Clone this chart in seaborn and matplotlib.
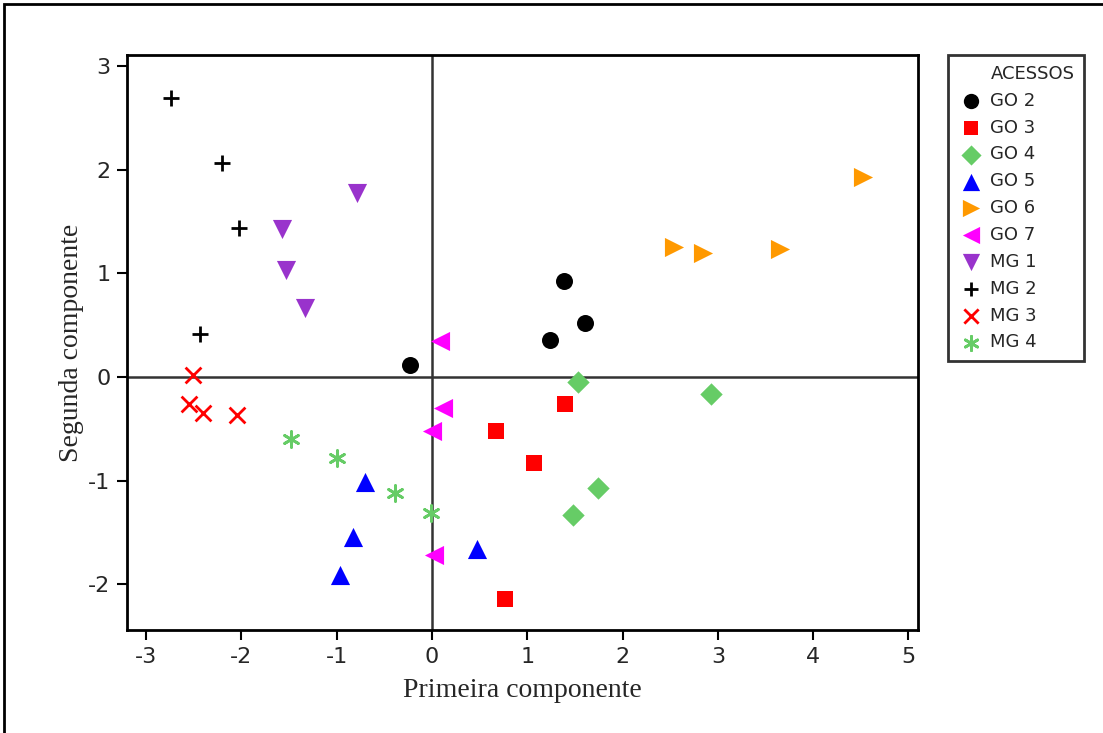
import matplotlib
matplotlib.use("Agg")
import matplotlib.pyplot as plt
import seaborn as sns
import pandas as pd
from matplotlib.lines import Line2D
from matplotlib.patches import Rectangle

# ---- data ----
groups = ["GO 2", "GO 3", "GO 4", "GO 5", "GO 6", "GO 7", "MG 1", "MG 2", "MG 3", "MG 4"]
go2_x = [-0.23, 1.39, 1.61, 1.24]
go2_y = [0.12, 0.93, 0.52, 0.36]
go3_x = [1.40, 0.67, 1.07, 0.77]
go3_y = [-0.26, -0.52, -0.83, -2.14]
go4_x = [1.53, 2.93, 1.74, 1.48]
go4_y = [-0.05, -0.16, -1.07, -1.33]
go5_x = [-0.70, -0.83, -0.97, 0.47]
go5_y = [-1.01, -1.54, -1.91, -1.66]
go6_x = [4.52, 2.54, 2.84, 3.65]
go6_y = [1.93, 1.25, 1.20, 1.23]
go7_x = [0.08, 0.12, 0.00, 0.02]
go7_y = [0.35, -0.30, -0.52, -1.72]
mg1_x = [-0.79, -1.57, -1.53, -1.33]
mg1_y = [1.77, 1.43, 1.03, 0.67]
mg2_x = [-2.74, -2.20, -2.03, -2.43]
mg2_y = [2.69, 2.06, 1.44, 0.41]
mg3_x = [-2.51, -2.55, -2.40, -2.05]
mg3_y = [0.02, -0.26, -0.35, -0.37]
mg4_x = [-1.48, -1.00, -0.39, -0.01]
mg4_y = [-0.60, -0.78, -1.12, -1.31]

xs = [go2_x, go3_x, go4_x, go5_x, go6_x, go7_x, mg1_x, mg2_x, mg3_x, mg4_x]
ys = [go2_y, go3_y, go4_y, go5_y, go6_y, go7_y, mg1_y, mg2_y, mg3_y, mg4_y]

x_ticks = [-3, -2, -1, 0, 1, 2, 3, 4, 5]
y_ticks = [-2, -1, 0, 1, 2, 3]

# ---- styles ----
colors = ["#000000", "#FF0000", "#66CC66", "#0000FF", "#FF9900",
          "#FF00FF", "#9933CC", "#000000", "#FF0000", "#66CC66"]
markers = ["o", "s", "D", "^", ">", "<", "v", "+", "x", (6, 2, 0)]
sizes = [150, 130, 130, 190, 190, 190, 190, 130, 130, 130]

df = pd.concat(
    [pd.DataFrame({"x": xx, "y": yy, "grupo": g}) for g, xx, yy in zip(groups, xs, ys)],
    ignore_index=True,
)

sns.set_style("white")
plt.rcParams["font.family"] = ["DejaVu Sans"]
plt.rcParams["axes.unicode_minus"] = False

fig = plt.figure(figsize=(11.03, 7.33), dpi=100)
ax = fig.add_axes([127 / 1103, 1 - 630 / 733, (918 - 127) / 1103, (630 - 55) / 733])

ax.axhline(0, color="#333333", lw=1.8, zorder=1)
ax.axvline(0, color="#333333", lw=1.8, zorder=1)

for g, c, m, s in zip(groups, colors, markers, sizes):
    sub = df[df["grupo"] == g]
    filled = m not in ("+", "x") and not isinstance(m, tuple)
    kw = dict(edgecolor=c, linewidth=0) if filled else dict(linewidth=2)
    sns.scatterplot(data=sub, x="x", y="y", marker=m, color=c, s=s,
                    label=g, ax=ax, zorder=3, **kw)

ax.set_xlim(-3.20, 5.10)
ax.set_ylim(-2.44, 3.105)
ax.set_xticks(x_ticks)
ax.set_yticks(y_ticks)
ax.tick_params(axis="both", direction="out", length=7, width=1.5,
               labelsize=16, color="black", left=True, bottom=True, pad=5)
for sp in ax.spines.values():
    sp.set_color("black")
    sp.set_linewidth(2)

ax.set_xlabel("Primeira componente", family="Liberation Serif", fontsize=20, labelpad=8)
ax.set_ylabel("Segunda componente", family="Liberation Serif", fontsize=20, labelpad=3)

handles, labels = ax.get_legend_handles_labels()
title_handle = Line2D([], [], linestyle="none", marker="")
leg = ax.legend([title_handle] + handles, ["ACESSOS"] + labels,
                loc="upper left", bbox_to_anchor=(1.038, 1.0), fontsize=13,
                frameon=True, fancybox=False, edgecolor="black",
                borderpad=0.55, labelspacing=0.49, handletextpad=0.4,
                handlelength=1.4, borderaxespad=0, markerscale=0.9)
leg.get_frame().set_linewidth(2)

# figure border
fig.patches.append(Rectangle((4 / 1103, -0.05), 1.1, 1 - 4 / 733 + 0.05,
                             transform=fig.transFigure, fill=False,
                             edgecolor="black", lw=2))

fig.savefig("out.png", dpi=100)
